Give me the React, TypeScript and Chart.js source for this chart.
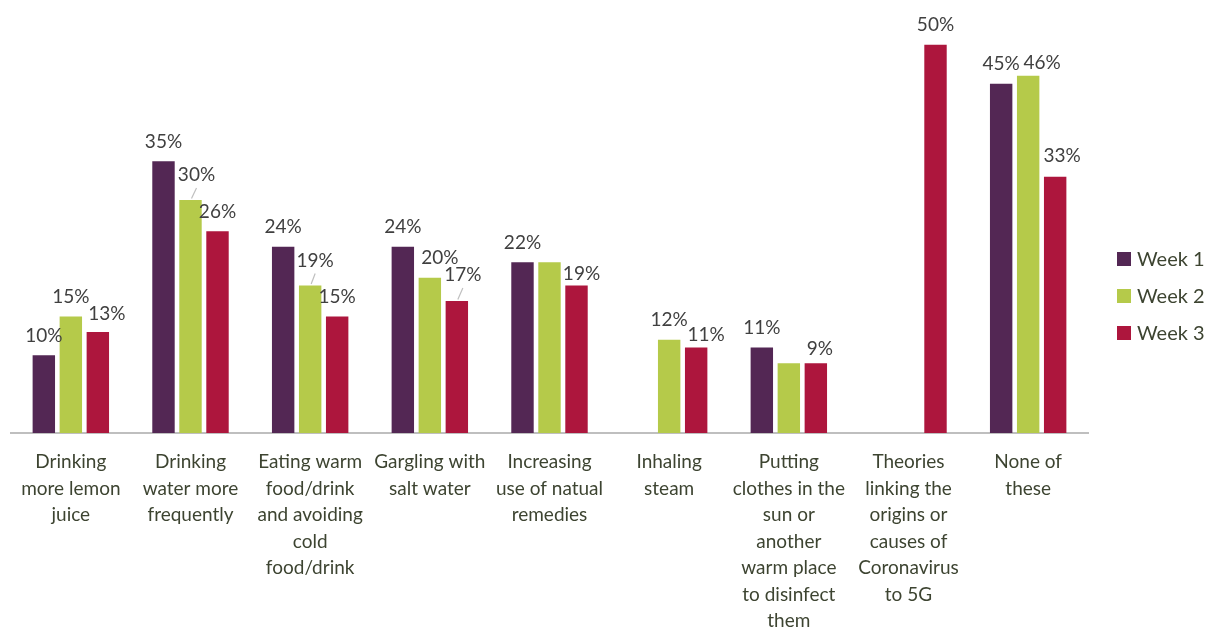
import React, { useEffect, useRef } from "react";
import { Chart, registerables } from "chart.js";

Chart.register(...registerables);

const categories: string[][] = [
  ["Drinking", "more lemon", "juice"],
  ["Drinking", "water more", "frequently"],
  ["Eating warm", "food/drink", "and avoiding", "cold", "food/drink"],
  ["Gargling with", "salt water"],
  ["Increasing", "use of natual", "remedies"],
  ["Inhaling", "steam"],
  ["Putting", "clothes in the", "sun or", "another", "warm place", "to disinfect", "them"],
  ["Theories", "linking the", "origins or", "causes of", "Coronavirus", "to 5G"],
  ["None of", "these"],
];

const seriesNames = ["Week 1", "Week 2", "Week 3"];
const week1: (number | null)[] = [10, 35, 24, 24, 22, null, 11, null, 45];
const week2: (number | null)[] = [15, 30, 19, 20, 22, 12, 9, null, 46];
const week3: (number | null)[] = [13, 26, 15, 17, 19, 11, 9, 50, 33];

const seriesColors = ["#532754", "#B5CA4A", "#AD163D"];

// labels Excel left out (dataset-index)
const hiddenLabels = ["1-4", "1-6"];

// manual label nudges (dataset-index) in pixels relative to the bar top centre
const labelOffsets: Record<string, { dx?: number; dy?: number; leader?: boolean }> = {
  "2-0": { dx: 9, dy: -18 },
  "1-1": { dx: 6, dy: -25, leader: true },
  "1-2": { dx: 5, dy: -25, leader: true },
  "1-3": { dx: 10, dy: -20 },
  "2-3": { dx: 6, dy: -26, leader: true },
  "2-4": { dx: 5, dy: -12 },
  "2-5": { dx: 10, dy: -13 },
  "2-6": { dx: 4, dy: -14 },
  "1-8": { dx: 14, dy: -13 },
  "2-8": { dx: 7, dy: -21 },
};

const FONT = "Lato, 'Open Sans', sans-serif";

const valueLabelPlugin = {
  id: "valueLabels",
  afterDatasetsDraw(chart: any) {
    const ctx = chart.ctx as CanvasRenderingContext2D;
    ctx.save();
    ctx.font = `19px ${FONT}`;
    ctx.textAlign = "center";
    ctx.textBaseline = "middle";
    chart.data.datasets.forEach((ds: any, di: number) => {
      const meta = chart.getDatasetMeta(di);
      meta.data.forEach((bar: any, i: number) => {
        const v = ds.data[i];
        if (v == null) return;
        const key = `${di}-${i}`;
        if (hiddenLabels.includes(key)) return;
        const o = labelOffsets[key] || {};
        const x = bar.x + (o.dx ?? 0);
        const y = bar.y + (o.dy ?? -19.5);
        if (o.leader) {
          ctx.strokeStyle = "#BFBFBF";
          ctx.lineWidth = 1.2;
          ctx.beginPath();
          ctx.moveTo(x, y + 13);
          ctx.lineTo(bar.x + 1, bar.y - 1.5);
          ctx.stroke();
        }
        ctx.fillStyle = "#404040";
        ctx.fillText(`${v}%`, x, y);
      });
    });
    ctx.restore();
  },
};

const legendPlugin = {
  id: "sideLegend",
  afterDraw(chart: any) {
    const ctx = chart.ctx as CanvasRenderingContext2D;
    ctx.save();
    ctx.font = `20px ${FONT}`;
    ctx.textAlign = "left";
    ctx.textBaseline = "middle";
    chart.data.datasets.forEach((ds: any, di: number) => {
      const cy = 259 + di * 37;
      ctx.fillStyle = ds.backgroundColor;
      ctx.fillRect(1117, cy - 7, 14, 14);
      ctx.fillStyle = "#3D4431";
      ctx.fillText(ds.label, 1137, cy + 1);
    });
    ctx.restore();
  },
};

export default function App() {
  const ref = useRef<HTMLCanvasElement>(null);
  useEffect(() => {
    const series = [week1, week2, week3];
    const chart = new Chart(ref.current!, {
      type: "bar",
      data: {
        labels: categories,
        datasets: series.map((d, i) => ({
          label: seriesNames[i],
          data: d,
          backgroundColor: seriesColors[i],
          borderWidth: 0,
          barPercentage: 0.83,
          categoryPercentage: 0.677,
        })),
      },
      options: {
        responsive: false,
        animation: false,
        layout: { padding: { left: 11, right: 117, top: 6, bottom: 0 } },
        plugins: {
          legend: { display: false },
          tooltip: { enabled: false },
        },
        scales: {
          x: {
            grid: { display: false, drawTicks: false },
            border: { display: true, color: "#BFBFBF", width: 2 },
            ticks: {
              autoSkip: false,
              maxRotation: 0,
              minRotation: 0,
              padding: 16,
              color: "#3D4431",
              font: { family: FONT, size: 19, lineHeight: 1.395 },
            },
            afterFit: (scale: any) => {
              scale.height = 194;
            },
          },
          y: {
            display: false,
            min: 0,
            max: 55,
          },
        },
      },
      plugins: [valueLabelPlugin, legendPlugin],
    } as any);
    return () => chart.destroy();
  }, []);
  return (
    <div style={{ position: "fixed", left: 0, top: 0, width: 1205, height: 627, background: "#fff" }}>
      <canvas ref={ref} width={1205} height={627} style={{ display: "block" }} />
    </div>
  );
}
